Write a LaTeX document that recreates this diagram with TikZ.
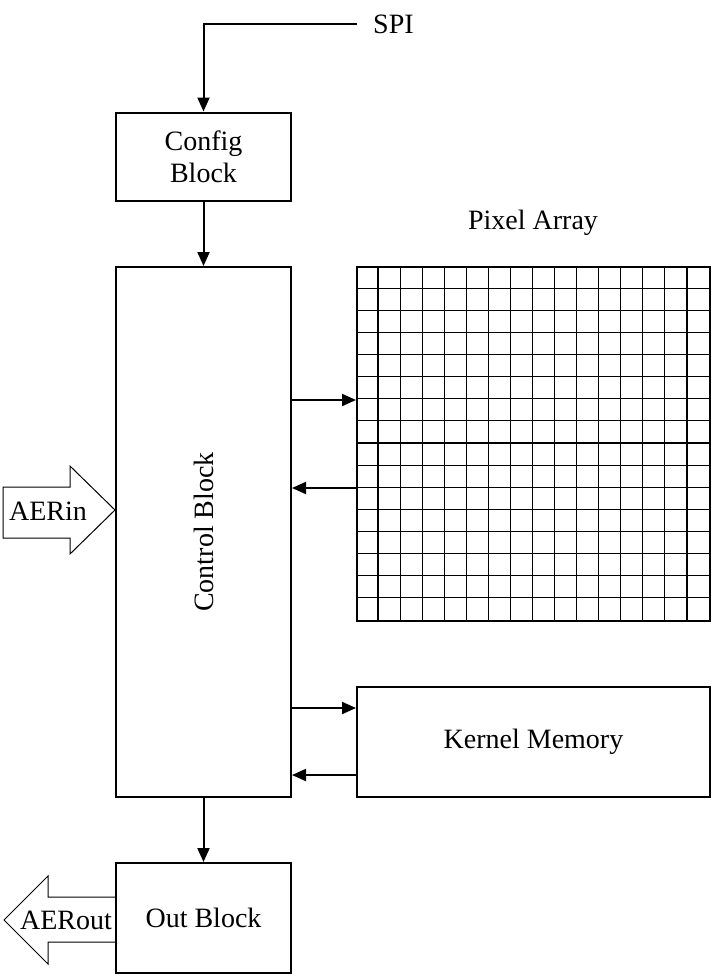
\documentclass[tikz,border=0pt]{standalone}
\usepackage{fontspec}
\setmainfont{Liberation Serif}
\usetikzlibrary{arrows.meta,calc}
\begin{document}
\begin{tikzpicture}[x=1pt,y=-1pt,
  font=\fontsize{28}{32}\selectfont,
  blk/.style={draw,line width=2pt,inner sep=0pt,align=center},
  conn/.style={line width=2pt,-{Triangle[length=14pt,width=12pt]}},
  fat/.style={draw,line width=1pt,line join=miter},
  gridline/.style={line width=1.2pt}]
\useasboundingbox (0,0) rectangle (715,978);
\node[blk,minimum width=175pt,minimum height=88pt] (config) at (203.5,156.5) {Config\\Block};
\node[blk,minimum width=175pt,minimum height=530pt] (control) at (203.5,532) {};
\node[rotate=90] at (control.center) {Control Block};
\node[blk,minimum width=175pt,minimum height=110pt] (out) at (203.5,918) {Out Block};
\node[blk,minimum width=353pt,minimum height=110pt] (kernel) at (533.5,742) {Kernel Memory};
\node[blk,minimum width=353pt,minimum height=354pt] (pixel) at (533.5,444) {};
\node (pixlabel) at (533,223) {Pixel Array};
\node[anchor=west,inner xsep=16pt,inner ysep=0pt] (spi) at (357,24) {SPI};
% grid
\foreach \i in {1,...,15} {
  \draw[gridline] ($(pixel.north west)+(\i*353/16,0)$) -- ($(pixel.south west)+(\i*353/16,0)$);
  \draw[gridline] ($(pixel.north west)+(0,\i*354/16)$) -- ($(pixel.north east)+(0,\i*354/16)$);
}
\coordinate (spicorner) at (203.5,24);
\draw[conn] (spi.west) -- (spicorner) -- (config.north);
\draw[conn] (config.south) -- (control.north);
\draw[conn] (control.south) -- (out.north);
\draw[conn] (control.east |- 0,400) -- (pixel.west |- 0,400);
\draw[conn] (pixel.west |- 0,488) -- (control.east |- 0,488);
\draw[conn] (control.east |- 0,708) -- (kernel.west |- 0,708);
\draw[conn] (kernel.west |- 0,775) -- (control.east |- 0,775);
% fat arrows
\draw[fat] (3,487) -- (70,487) -- (70,466) -- (control.west |- 0,510) -- (70,554) -- (70,538) -- (3,538) -- cycle;
\node (aerin) at (48,511) {AERin};
\draw[fat] (out.west |- 0,897) -- (48,897) -- (48,876) -- (4,920) -- (48,964) -- (48,942) -- (out.west |- 0,942);
\node (aerout) at (66,920) {AERout};
\end{tikzpicture}
\end{document}
